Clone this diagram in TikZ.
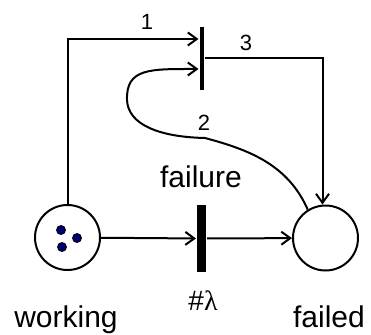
\documentclass[tikz,border=0pt]{standalone}
\usepackage{fontspec}
\setmainfont{Liberation Sans}
\newfontfamily\greekserif{Liberation Serif}
\usetikzlibrary{arrows.meta,calc}
\definecolor{tokenblue}{RGB}{0,0,110}
\begin{document}
\begin{tikzpicture}[x=1pt,y=-1pt,line width=2pt,
  place/.style={circle,draw,minimum size=65pt,inner sep=0pt},
  tbar/.style={fill=black,draw=none,inner sep=0pt},
  token/.style={circle,fill=tokenblue,draw=black,line width=0.8pt,minimum size=9pt,inner sep=0pt},
  arc/.style={-{Straight Barb[length=9pt,width=13pt]}},
  lbl/.style={font=\fontsize{30}{36}\selectfont,anchor=base,inner sep=0pt},
  weight/.style={font=\fontsize{22}{26}\selectfont,anchor=base,inner sep=0pt},
  ratelbl/.style={font=\fontsize{28}{32}\selectfont,anchor=base,inner sep=0pt}]
\useasboundingbox (0,0) rectangle (371,334);

% places and transitions
\node[place] (working) at (67.5,237.5) {};
\node[place] (failed) at (325.5,238) {};
\node[tbar,minimum width=9pt,minimum height=67pt] (failure) at (201.5,238.5) {};
\node[tbar,minimum width=4pt,minimum height=63pt] (reset) at (201.5,58.5) {};

% tokens in the working place
\node[token] (tok1) at (61,230) {};
\node[token] (tok2) at (77,238) {};
\node[token] (tok3) at (62,247) {};

% arcs
\draw[arc] (working) -- (failure);
\draw[arc] (failure) -- (failed);
\draw[arc] (working.north) |- ([yshift=19.5pt]reset.west);
\draw[arc] (reset.east) -| ($(failed.north)+(-3,0)$);
\draw[arc] (failed.122) .. controls (288,165) and (250,150) .. (205,138)
  .. controls (160,137) and (128,125) .. (127,100)
  .. controls (126,68) and (150,69) .. ([yshift=-10.5pt]reset.west);

% labels
\node[weight] (w1) at (147,30) {1};
\node[weight] (w2) at (204,130) {2};
\node[weight] (w3) at (246,51) {3};
\node[lbl] (lfailure) at (201,187) {failure};
\node[ratelbl] (rate) at (203,310) {\#{\greekserif λ}};
\node[lbl] (lworking) at (66,327) {working};
\node[lbl] (lfailed) at (329,327) {failed};
\end{tikzpicture}
\end{document}
